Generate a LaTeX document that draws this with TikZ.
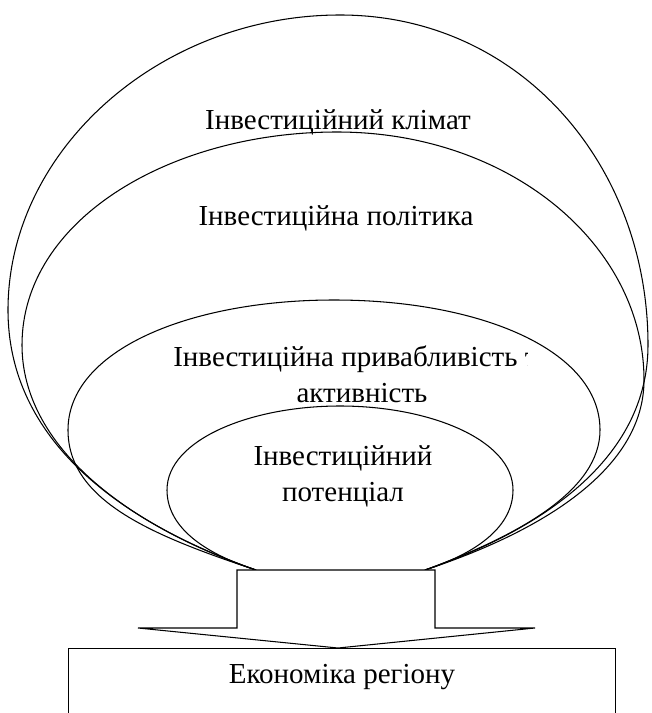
\documentclass[tikz,border=0pt]{standalone}
\usepackage{fontspec}
\setmainfont{Liberation Serif}

\begin{document}
\begin{tikzpicture}[x=0.02cm,y=-0.02cm,line width=0.6pt,
  lbl/.style={font=\fontsize{16.5}{20}\selectfont,inner sep=0pt,align=center},
  ring/.style={draw=black}]
  \useasboundingbox (0,0) rectangle (652,713);
  \coordinate (bl) at (256,570);
  \coordinate (br) at (425,570);
  \draw[ring] (bl) .. controls (120,522) and (8,440) .. (8,310)
    .. controls (8,150) and (160,15) .. (340,15)
    .. controls (520,15) and (648,165) .. (648,345)
    .. controls (648,460) and (540,530) .. (br);
  \draw[ring] (bl) .. controls (125,525) and (22,445) .. (22,345)
    .. controls (22,220) and (170,132) .. (337,132)
    .. controls (510,132) and (644,245) .. (644,380)
    .. controls (644,470) and (540,532) .. (br);
  \draw[ring] (bl) .. controls (150,535) and (68,500) .. (68,430)
    .. controls (68,350) and (190,300) .. (334,300)
    .. controls (480,300) and (600,350) .. (600,430)
    .. controls (600,490) and (520,535) .. (br);
  \draw[ring] (bl) .. controls (200,552) and (167,525) .. (167,490)
    .. controls (167,440) and (250,406) .. (340,406)
    .. controls (430,406) and (513,440) .. (513,490)
    .. controls (513,525) and (480,552) .. (br);
  \draw[fill=white] (237,570) -- (435,570) -- (435,628) -- (535,628)
    -- (338,648) -- (138,628) -- (237,628) -- cycle;
  \node[lbl,anchor=base] (climate) at (338,130) {Інвестиційний клімат};
  \node[lbl,anchor=base] (policy) at (336,225) {Інвестиційна політика};
  \begin{scope}
    \clip (0,0) rectangle (527,713);
    \node[lbl,anchor=base] (attract) at (362,402) {Інвестиційна привабливість та\\активність};
  \end{scope}
  \node[lbl,anchor=base] (potential) at (343,501) {Інвестиційний\\потенціал};
  \node[lbl,draw,anchor=north,minimum width=10.96cm,text height=0.7cm,text depth=2cm] (economy) at (342,648) {Економіка регіону};
\end{tikzpicture}
\end{document}
